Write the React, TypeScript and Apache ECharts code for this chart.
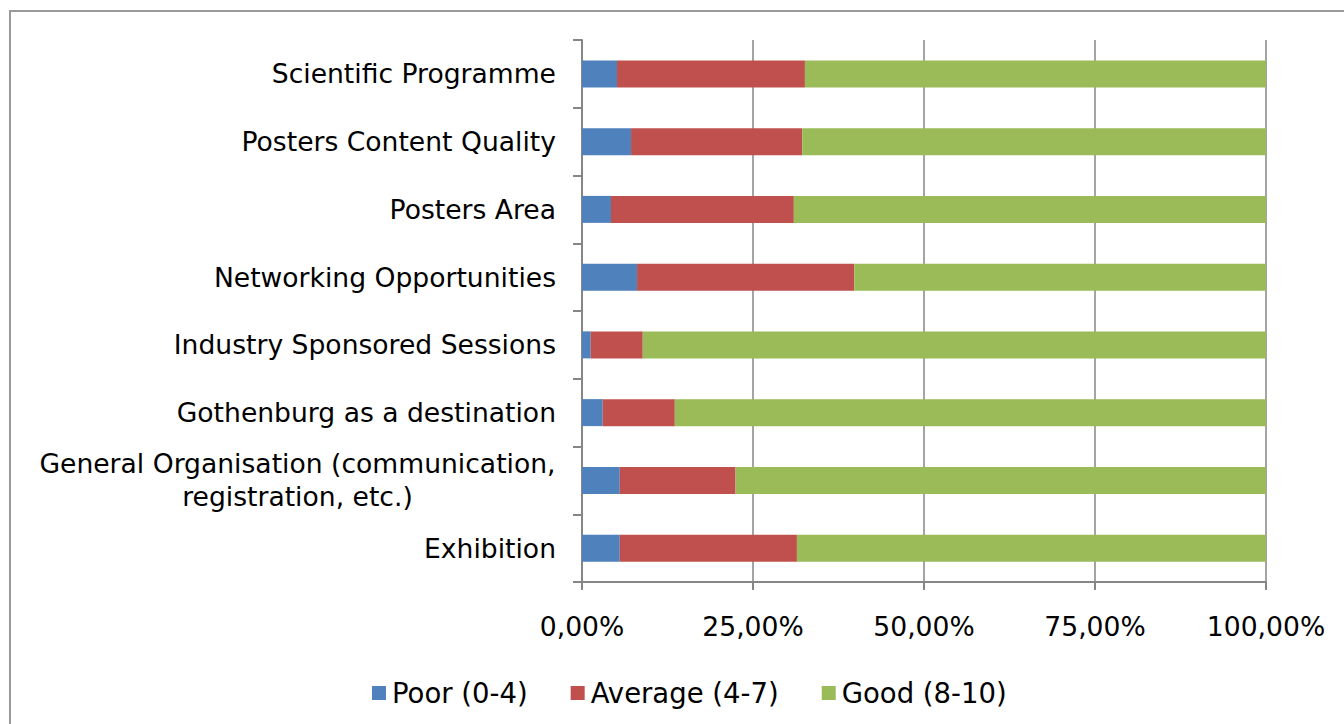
import React, { useEffect, useRef } from "react";
import * as echarts from "echarts";

const categories = [
  "Scientific Programme",
  "Posters Content Quality",
  "Posters Area",
  "Networking Opportunities",
  "Industry Sponsored Sessions",
  "Gothenburg as a destination",
  "General Organisation (communication,\nregistration, etc.)",
  "Exhibition",
];
const poor = [5.12, 7.17, 4.24, 8.05, 1.27, 3.03, 5.52, 5.52];
const average = [27.47, 25.02, 26.73, 31.75, 7.61, 10.54, 16.93, 25.9];
const good = poor.map((p, i) => +(100 - p - average[i]).toFixed(2));
const seriesNames = ["Poor (0-4)", "Average (4-7)", "Good (8-10)"];
const colors = ["#4F81BD", "#C0504D", "#9BBB59"];

const FONT = "DejaVu Sans";
const AXIS_FS = 26.6;

export default function App() {
  const ref = useRef<HTMLDivElement>(null);
  useEffect(() => {
    const chart = echarts.init(ref.current!, null, { renderer: "svg" });
    const gray = "#868686";
    chart.setOption({
      animation: false,
      backgroundColor: "#ffffff",
      textStyle: { fontFamily: FONT },
      graphic: [
        {
          type: "rect",
          shape: { x: 10, y: 11, width: 1400, height: 800 },
          style: { fill: "none", stroke: "#9a9a9a", lineWidth: 2 },
          silent: true,
        },
      ],
      legend: {
        left: 367,
        top: 674,
        itemWidth: 14,
        itemHeight: 14,
        itemGap: 43,
        icon: "rect",
        textStyle: { fontFamily: FONT, fontSize: 27.5, color: "#000", padding: [0, 0, 0, 1] },
        data: seriesNames,
      },
      grid: { left: 582, right: 78, top: 40, bottom: 142, containLabel: false },
      xAxis: {
        type: "value",
        min: 0,
        max: 100,
        interval: 25,
        axisLine: { show: true, lineStyle: { color: gray, width: 2 } },
        axisTick: { show: true, length: 8, lineStyle: { color: gray, width: 2 } },
        splitLine: { show: true, lineStyle: { color: gray, width: 1.5 } },
        axisLabel: {
          margin: 31,
          fontFamily: FONT,
          fontSize: AXIS_FS,
          color: "#000",
          formatter: (v: number) => v.toFixed(2).replace(".", ",") + "%",
        },
      },
      yAxis: {
        type: "category",
        inverse: true,
        data: categories,
        axisLine: { show: true, lineStyle: { color: gray, width: 2 } },
        axisTick: { show: true, length: 9, lineStyle: { color: gray, width: 2 } },
        axisLabel: {
          margin: 26,
          fontFamily: FONT,
          fontSize: AXIS_FS,
          color: "#000",
          lineHeight: 33,
          formatter: (v: string) =>
            v.indexOf("\n") >= 0
              ? v
                  .split("\n")
                  .map((s) => "{c|" + s + "}")
                  .join("\n")
              : v,
          rich: {
            c: {
              fontFamily: FONT,
              fontSize: AXIS_FS,
              color: "#000",
              width: 517,
              align: "center",
              lineHeight: 33,
            },
          },
        },
      },
      series: [poor, average, good].map((d, i) => ({
        name: seriesNames[i],
        type: "bar",
        stack: "total",
        barWidth: 27,
        data: d,
        itemStyle: { color: colors[i] },
      })),
    });
    return () => chart.dispose();
  }, []);
  return (
    <div
      ref={ref}
      style={{ position: "absolute", left: 0, top: 0, width: 1344, height: 724 }}
    />
  );
}
